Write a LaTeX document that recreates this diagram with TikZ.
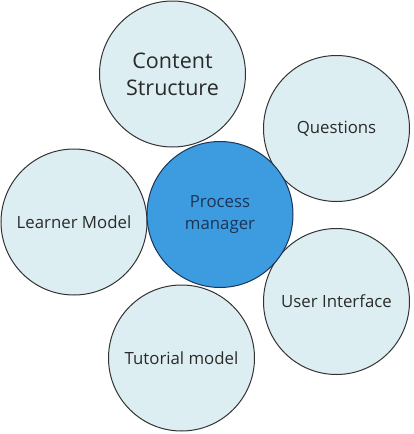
\documentclass[tikz,border=0pt]{standalone}
\usepackage{fontspec}
\setmainfont{Open Sans}
\definecolor{outerfill}{HTML}{DDEEF2}
\definecolor{hubfill}{HTML}{3D9BE0}
\definecolor{labeltext}{HTML}{2A2A2A}
\definecolor{hubtext}{HTML}{1C3557}
\tikzset{
  outer/.style = {circle, draw = black!80, fill = outerfill, line width = 1pt, minimum size = 146pt, inner sep = 0pt, align = center, text = labeltext, font = \fontsize{16.8}{22}\selectfont},
  hub/.style = {outer, fill = hubfill, draw = hubtext, text = hubtext}
}
\begin{document}
\begin{tikzpicture}[x = 1pt, y = -1pt]

        \useasboundingbox (0, 0) rectangle (414, 434);

        \node [outer, font = \fontsize{21.5}{27}\selectfont] (content) at (172.5, 74) {Content\\Structure};
        \node [outer] (questions) at (336.5, 128.5) {Questions};
        \node [outer] (learner) at (74, 222) {Learner Model};
        \node [outer] (ui) at (336.5, 301.5) {User Interface};
        \node [outer] (tutorial) at (181.5, 358) {Tutorial model};

        % Centre
        \node [hub] (process) at (220, 214.5) {Process\\manager};

    \end{tikzpicture}
\end{document}
